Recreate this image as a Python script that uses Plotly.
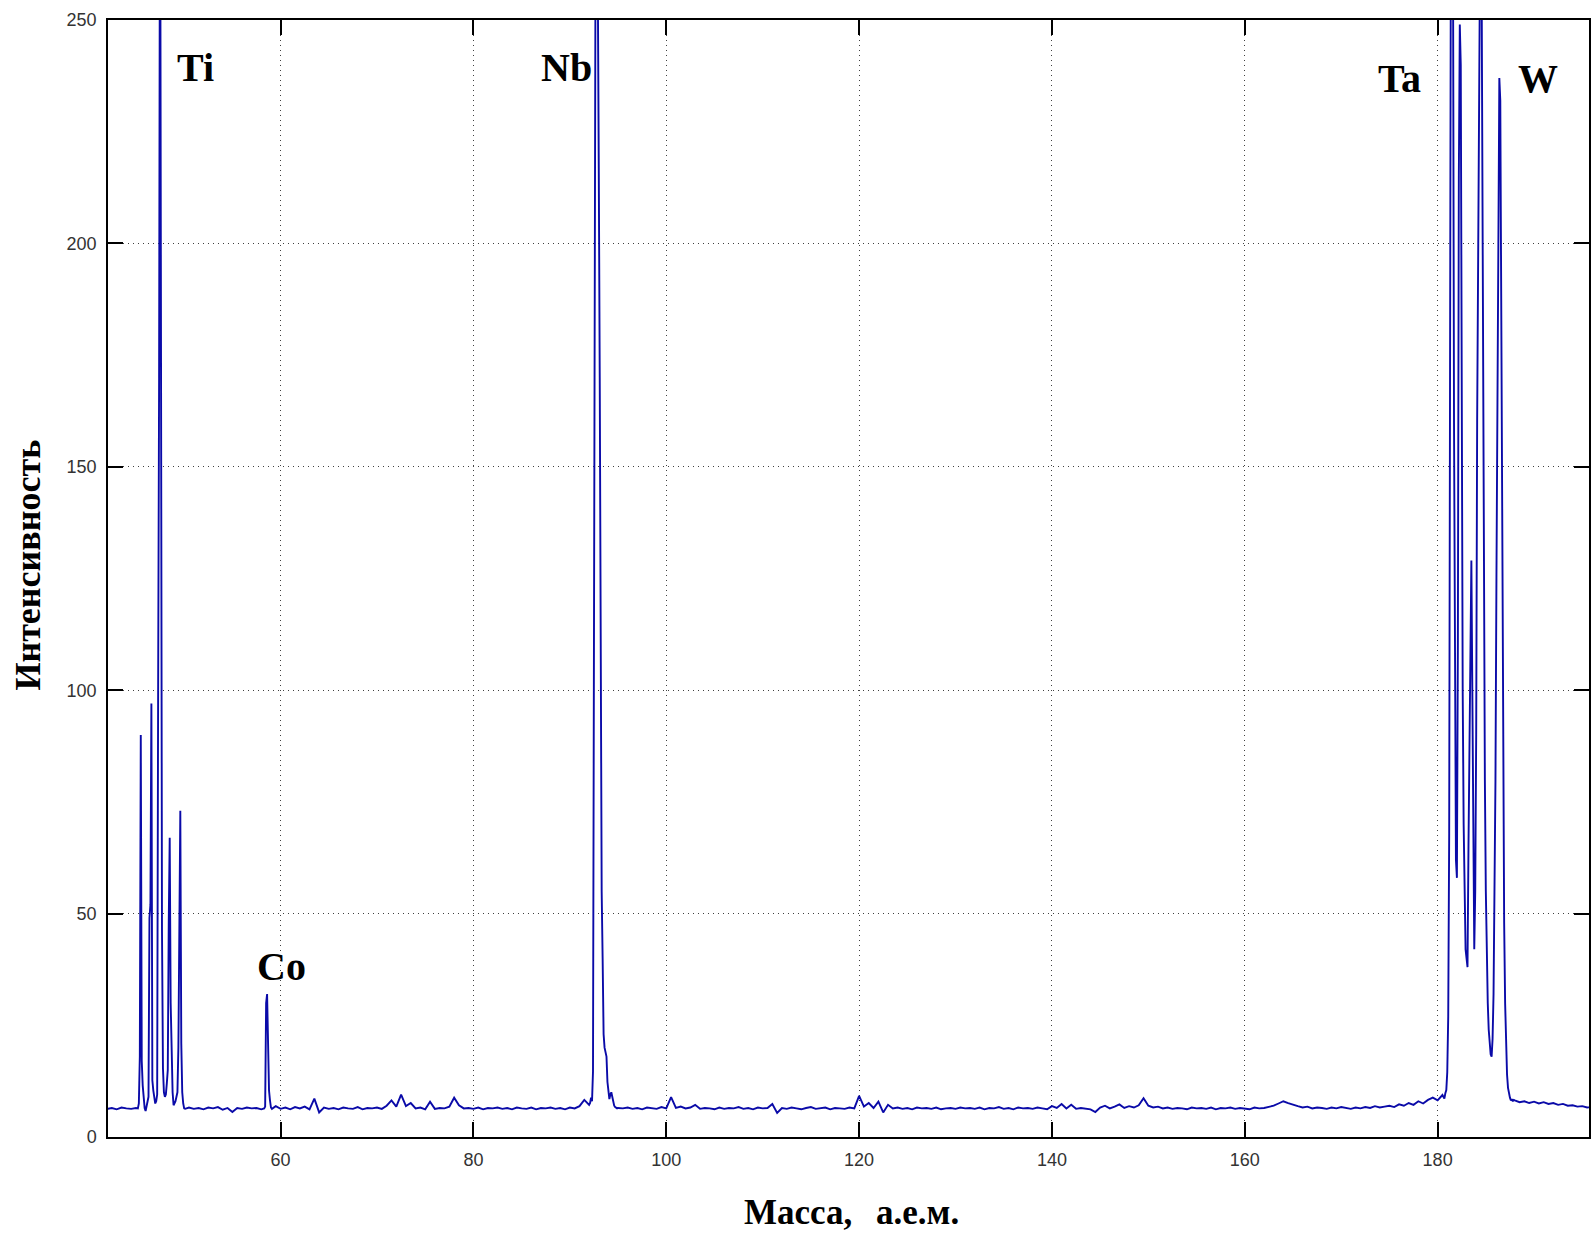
import plotly.graph_objects as go

# ---------------- data ----------------
# Baseline of the spectrum on a 0.5 a.m.u. grid (None where a peak array covers the mass)
base_start = 42.0
base_step = 0.5
base_intensity = [
    6.3, 6.5, 6.2, 6.6, 6.4, 6.3, 6.5, None, None, None, None, None, None, None, None, None, None, 6.6, 6.3, 6.5,
    6.2, 6.6, 6.4, 6.7, 6.1, 6.5, 5.6, 6.5, 6.3, 6.6, 6.4, 6.5, 6.2, None, None, 6.9, 6.3, 6.6, 6.2, 6.7,
    6.4, 6.8, 6.2, 8.6, 5.5, 6.6, 6.3, 6.5, 6.2, 6.6, 6.4, 6.3, 6.7, 6.2, 6.5, 6.4, 6.6, 6.3, 7.0, 8.2,
    6.8, 9.5, 6.9, 7.6, 6.4, 6.6, 6.2, 7.9, 6.3, 6.5, 6.4, 6.8, 8.8, 7.1, 6.4, 6.5, 6.3, 6.6, 6.2, 6.5,
    6.4, 6.6, 6.3, 6.5, 6.2, 6.6, 6.4, 6.3, 6.6, 6.2, 6.5, 6.4, 6.6, 6.3, 6.5, 6.2, 6.6, 6.4, 6.9, 8.3,
    7.2, None, None, None, None, None, 6.5, 6.4, 6.6, 6.3, 6.5, 6.2, 6.6, 6.4, 6.3, 6.7, 6.4, 8.9, 6.5, 6.8,
    6.4, 6.6, 7.2, 6.3, 6.5, 6.4, 6.2, 6.6, 6.3, 6.5, 6.4, 6.7, 6.3, 6.5, 6.2, 6.6, 6.4, 6.5, 7.4, 5.4,
    6.5, 6.3, 6.6, 6.4, 6.2, 6.5, 6.7, 6.3, 6.4, 6.6, 6.2, 6.5, 6.4, 6.3, 6.6, 6.4, 9.2, 6.8, 7.6, 6.5,
    7.9, 5.5, 7.2, 6.4, 6.6, 6.3, 6.5, 6.2, 6.6, 6.4, 6.5, 6.3, 6.6, 6.2, 6.4, 6.5, 6.3, 6.6, 6.4, 6.5,
    6.3, 6.6, 6.2, 6.5, 6.4, 6.7, 6.3, 6.5, 6.2, 6.6, 6.4, 6.5, 6.3, 6.6, 6.4, 6.2, 6.9, 6.5, 7.4, 6.4,
    7.2, 6.3, 6.5, 6.4, 6.2, 5.6, 6.6, 7.0, 6.4, 6.8, 7.3, 6.5, 6.9, 6.6, 7.1, 8.7, 7.0, 6.6, 6.8, 6.4,
    6.6, 6.3, 6.5, 6.4, 6.2, 6.6, 6.4, 6.5, 6.3, 6.6, 6.2, 6.5, 6.4, 6.6, 6.3, 6.5, 6.4, 6.2, 6.6, 6.4,
    6.5, 6.8, 7.0, 7.5, 8.0, 7.6, 7.2, 6.9, 6.6, 6.8, 6.4, 6.6, 6.5, 6.3, 6.6, 6.4, 6.7, 6.5, 6.3, 6.6,
    6.4, 6.7, 6.5, 6.9, 6.6, 6.8, 7.0, 6.7, 7.3, 7.0, 7.6, 7.2, 8.0, 7.5, 8.3, 8.8, 8.2, 9.4, None, None,
    None, None, None, None, None, None, None, None, None, None, None, None, 8.2, 7.8, 8.0, 7.6, 7.9, 7.5, 7.8, 7.4,
    7.6, 7.2, 7.4, 7.0, 7.1, 6.8, 6.9, 6.6, 6.7,
]

# Ti isotopes (46-50)
ti_mass = [45.2, 45.3, 45.4, 45.5, 45.6, 45.7, 45.8, 45.9, 46.0, 46.1,
           46.2, 46.3, 46.4, 46.5, 46.6, 46.7, 46.8, 46.9, 47.0, 47.1,
           47.2, 47.3, 47.4, 47.5, 47.6, 47.7, 47.8, 47.9, 48.0, 48.1,
           48.2, 48.3, 48.4, 48.5, 48.6, 48.7, 48.8, 48.9, 49.0, 49.1,
           49.2, 49.3, 49.4, 49.5, 49.6, 49.7, 49.8, 49.9, 50.0, 50.1]
ti_int = [6.4, 7.5, 18, 90, 17, 11.5, 8.2, 6.5, 5.8, 7,
          8, 9, 49, 52, 97, 12.7, 10.4, 8.5, 7.5, 8,
          9.5, 100, 170, 300, 99, 46, 15.4, 10, 9, 9.5,
          12, 15, 48, 67, 30, 15, 10, 7.1, 7.5, 8,
          9, 10, 20, 55, 73, 21, 10, 7.5, 6.4, 6.3]

# Co
co_mass = [58.3, 58.4, 58.5, 58.6, 58.7, 58.8, 58.9, 59.0, 59.1]
co_int = [6.4, 6.8, 30, 32, 21, 10.4, 8.2, 6.6, 6.3]

# Nb
nb_mass = [92.1, 92.2, 92.3, 92.4, 92.5, 92.6, 92.7, 92.8, 92.9, 93.0,
           93.1, 93.2, 93.3, 93.4, 93.5, 93.6, 93.7, 93.8, 93.9, 94.0,
           94.1, 94.2, 94.3, 94.4, 94.5, 94.6, 94.7, 94.8, 94.9]
nb_int = [7.6, 8.8, 8.0, 14.6, 118, 197, 300, 300, 239, 217,
          170, 100, 55, 40, 23, 20, 19, 18, 12.3, 9.3,
          8.5, 9.5, 10, 9, 7.5, 7.0, 6.7, 6.5, 6.4]

# Ta and W
taw_mass = [180.6, 180.7, 180.8, 180.9, 181.0, 181.1, 181.2, 181.3, 181.4, 181.5,
            181.6, 181.7, 181.8, 181.9, 182.0, 182.1, 182.2, 182.3, 182.4, 182.5,
            182.6, 182.7, 182.8, 182.9, 183.0, 183.1, 183.2, 183.3, 183.4, 183.5,
            183.6, 183.7, 183.8, 183.9, 184.0, 184.1, 184.2, 184.3, 184.4, 184.5,
            184.6, 184.7, 184.8, 184.9, 185.0, 185.1, 185.2, 185.3, 185.4, 185.5,
            185.6, 185.7, 185.8, 185.9, 186.0, 186.1, 186.2, 186.3, 186.4, 186.5,
            186.6, 186.7, 186.8, 186.9, 187.0, 187.1, 187.2, 187.3, 187.4, 187.5,
            187.6, 187.7, 187.8, 187.9]
taw_int = [9.0, 8.6, 9.8, 10.5, 14.5, 27, 68, 160, 300, 300,
           260, 160, 95, 62, 58, 110, 215, 249, 240, 150,
           100, 70, 50, 42, 40, 38, 65, 90, 118, 129,
           100, 60, 42, 55, 90, 160, 239, 300, 300, 300,
           239, 180, 120, 80, 55, 40, 30, 24, 20, 18.5,
           18, 22, 32, 50, 80, 125, 170, 210, 237, 232,
           190, 130, 80, 48, 30, 20, 14, 11, 9.5, 8.8,
           8.2, 8.5, 8.0, 8.3]

peak_labels = ["Ti", "Nb", "Co", "Ta", "W"]
label_mass = [51.22, 89.68, 60.14, 176.03, 190.43]
label_int = [239.3, 239.3, 38.2, 236.8, 237.0]

x_ticks = [60, 80, 100, 120, 140, 160, 180]
y_ticks = [0, 50, 100, 150, 200, 250]

# ---------------- assemble ----------------
points = []
for i, v in enumerate(base_intensity):
    if v is not None:
        points.append((round(base_start + i * base_step, 2), v))
for ms, vs in [(ti_mass, ti_int), (co_mass, co_int), (nb_mass, nb_int), (taw_mass, taw_int)]:
    points.extend(zip(ms, vs))
points.sort()
mass = [p[0] for p in points]
intensity = [p[1] for p in points]

fig = go.Figure()
fig.add_trace(go.Scatter(
    x=mass, y=intensity, mode="lines",
    line=dict(color="#0a0aa8", width=1.9),
    showlegend=False, hoverinfo="skip",
))

axis_common = dict(
    showline=True, linecolor="black", linewidth=1.5, mirror="ticks",
    ticks="inside", ticklen=15, tickwidth=1.5, tickcolor="black",
    showgrid=True, gridcolor="#404040", gridwidth=1, griddash="1px,4px",
    zeroline=False,
    tickfont=dict(family="Liberation Sans, Arial, sans-serif", size=18, color="#333333"),
    ticklabelstandoff=6,
)

fig.update_layout(
    width=1591, height=1234,
    margin=dict(l=108, r=0, t=20, b=97),
    paper_bgcolor="white", plot_bgcolor="white",
    xaxis=dict(range=[42.1, 195.7], tickvals=x_ticks, ticktext=[str(t) for t in x_ticks], **axis_common),
    yaxis=dict(range=[0, 250], tickvals=y_ticks, ticktext=[str(t) for t in y_ticks], **axis_common),
)

serif = "Liberation Serif, Times New Roman, serif"
for t, mx, my in zip(peak_labels, label_mass, label_int):
    fig.add_annotation(x=mx, y=my, xref="x", yref="y", text="<b>%s</b>" % t,
                       showarrow=False, xanchor="center", yanchor="middle",
                       font=dict(family=serif, size=40, color="black"))

fig.add_annotation(x=-0.0537, y=0.512, xref="paper", yref="paper",
                   text="<b>Интенсивность</b>", textangle=-90, showarrow=False,
                   xanchor="center", yanchor="middle",
                   font=dict(family=serif, size=36, color="black"))
fig.add_annotation(x=0.5035, y=-0.0675, xref="paper", yref="paper",
                   text="<b>Масса,</b>", showarrow=False,
                   xanchor="right", yanchor="middle",
                   font=dict(family=serif, size=35, color="black"))
fig.add_annotation(x=0.5172, y=-0.0675, xref="paper", yref="paper",
                   text="<b>а.е.м.</b>", showarrow=False,
                   xanchor="left", yanchor="middle",
                   font=dict(family=serif, size=35, color="black"))

fig.write_html("out.html", config={"displayModeBar": False},
               post_script="document.body.style.margin='0';document.body.style.overflow='hidden';")
